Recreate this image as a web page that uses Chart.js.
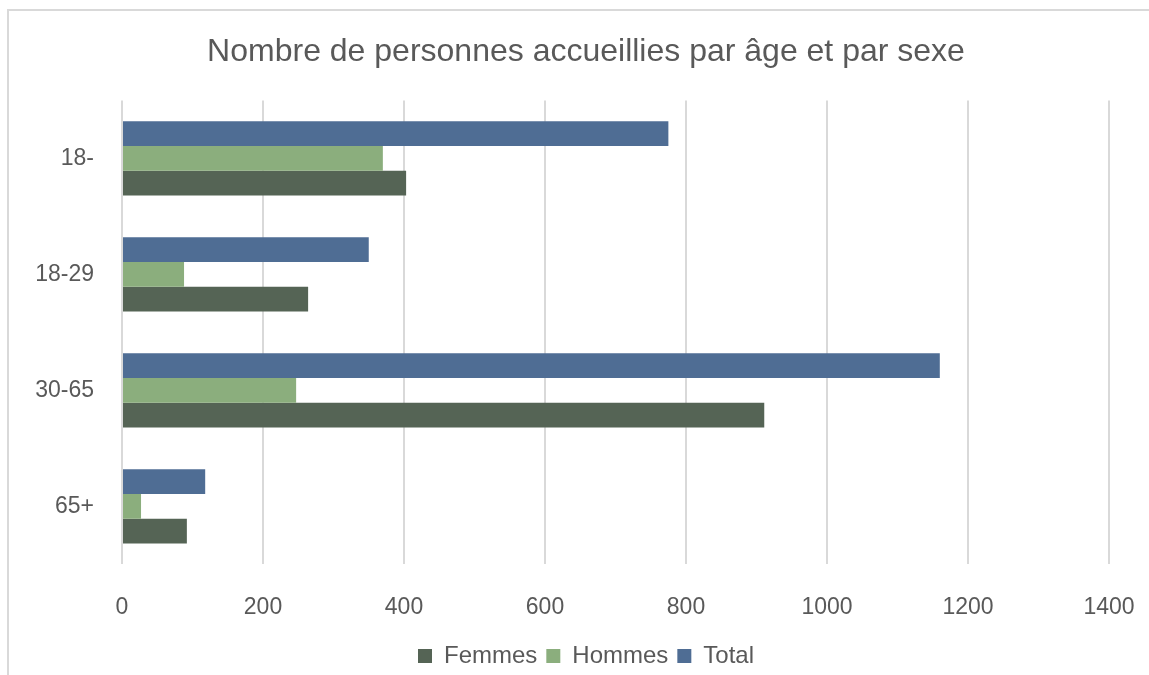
<!DOCTYPE html>
<html>
<head>
<meta charset="utf-8">
<script src="https://cdn.jsdelivr.net/npm/chart.js@4"></script>
<style>
    body { margin: 0; background: #fff; }
    #wrap { position: relative; width: 1149px; height: 675px; overflow: hidden; }
    #frame { position: absolute; left: 7px; top: 9px; width: 1160px; height: 700px; border: 2px solid #d9d9d9; box-sizing: border-box; }
    canvas { position: absolute; left: 0; top: 0; }
</style>
</head>
<body>
<div id="wrap">
    <div id="frame"></div>
    <canvas id="chart" width="1172" height="675"></canvas>
</div>
<script>
const categories = ['18-', '18-29', '30-65', '65+'];
const femmes = [403, 264, 911, 92];
const hommes = [370, 88, 247, 27];
const total = [775, 350, 1160, 118];
const xTicks = [0, 200, 400, 600, 800, 1000, 1200, 1400];

const font = "'Liberation Sans', Arial, sans-serif";
const grey = '#595959';

const ctx = document.getElementById('chart').getContext('2d');

new Chart(ctx, {
    type: 'bar',
    data: {
        labels: categories,
        // datasets listed top-to-bottom within each group; legend is reversed
        datasets: [
            { label: 'Total', data: total, backgroundColor: '#4f6d94' },
            { label: 'Hommes', data: hommes, backgroundColor: '#8bae7d' },
            { label: 'Femmes', data: femmes, backgroundColor: '#556455' }
        ]
    },
    options: {
        indexAxis: 'y',
        responsive: false,
        animation: false,
        categoryPercentage: 0.64,
        barPercentage: 1,
        layout: { padding: { left: 0, right: 0, top: 0, bottom: -3 } },
        plugins: {
            title: {
                display: true,
                text: 'Nombre de personnes accueillies par âge et par sexe',
                color: grey,
                font: { family: font, size: 32, weight: 'normal' },
                padding: { top: 33, bottom: 29 }
            },
            legend: {
                position: 'bottom',
                reverse: true,
                labels: {
                    color: grey,
                    font: { family: font, size: 24 },
                    boxWidth: 14,
                    boxHeight: 14,
                    padding: 9
                }
            },
            tooltip: { enabled: false }
        },
        scales: {
            x: {
                min: 0,
                max: 1400,
                afterBuildTicks: axis => { axis.ticks = xTicks.map(v => ({ value: v })); },
                // right gap lives on the scale so the title/legend stay centred on the canvas
                afterFit: axis => { axis.paddingLeft = 0; axis.paddingRight = 63; axis.height -= 15; },
                grid: { color: '#d9d9d9', lineWidth: 2, drawTicks: false },
                border: { display: false },
                ticks: { color: grey, font: { family: font, size: 23 }, padding: 29, callback: v => String(v) }
            },
            y: {
                grid: { display: false },
                border: { display: false },
                afterFit: axis => { axis.width = 122; },
                ticks: { color: grey, font: { family: font, size: 23 }, padding: 20 }
            }
        }
    }
});
</script>
</body>
</html>
